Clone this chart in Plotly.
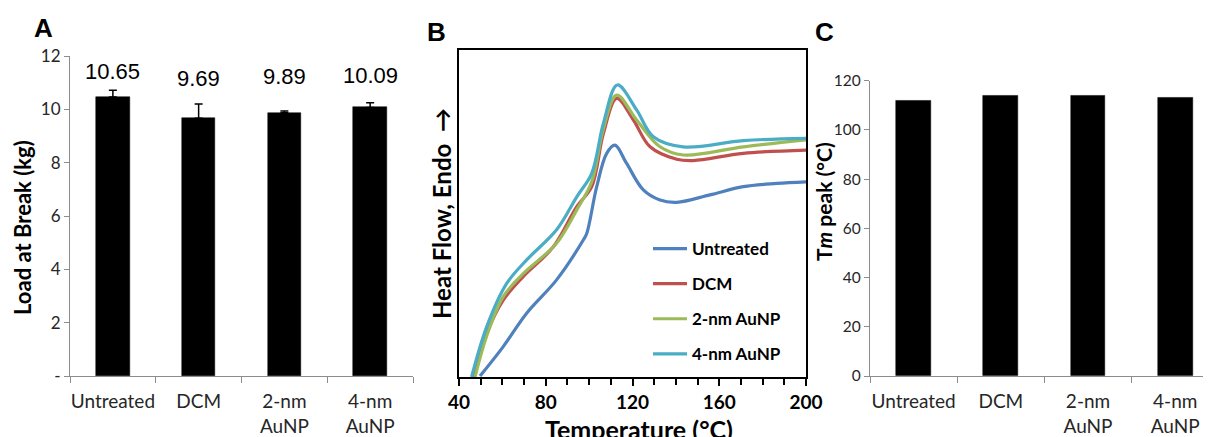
import plotly.graph_objects as go

# Panel A: load at break
groups = ["Untreated", "DCM", "2-nm AuNP", "4-nm AuNP"]
tick_labels = ["Untreated", "DCM", "2-nm<br>AuNP", "4-nm<br>AuNP"]
load_values = [10.46, 9.67, 9.87, 10.07]
load_errors = [0.26, 0.53, 0.07, 0.18]
load_labels = [10.65, 9.69, 9.89, 10.09]

# Panel C: melting peak
tm_values = [112, 114, 114, 113]
tm_labels = ["112", "114", "114", "113"]

# Panel B: DSC curves (arbitrary heat-flow units)
temp_untreated = [49.7, 60.4, 71.2, 85.0, 97.3, 98.9, 103.5, 108.1, 111.9, 117.3, 125.0, 132.7, 140.4, 155.7, 171.1, 186.5, 200]
hf_untreated = [0.3, 9.3, 19.5, 29.7, 41.9, 43.9, 58.2, 68.4, 70.9, 65.3, 57.2, 54.1, 53.4, 55.7, 58.2, 59.2, 59.7]

temp_dcm = [46.6, 52.8, 60.4, 69.6, 83.5, 94.3, 101.2, 106.6, 112.7, 120.4, 128.1, 140.4, 148.0, 171.1, 200]
hf_dcm = [0, 13.4, 23.5, 30.7, 39.8, 52.1, 58.2, 74.5, 85.2, 78.6, 70.4, 66.6, 66.2, 68.4, 69.4]

temp_2nm = [47.4, 52.8, 60.4, 69.6, 85.0, 94.3, 101.2, 106.6, 112.7, 121.9, 132.7, 143.4, 171.1, 200]
hf_2nm = [0, 12.6, 24.6, 31.6, 40.9, 51.1, 59.7, 76.0, 86.2, 78.6, 70.4, 67.9, 70.4, 72.5]

temp_4nm = [45.8, 52.8, 62.0, 71.2, 85.0, 94.3, 101.2, 106.6, 113.0, 121.9, 129.6, 143.4, 171.1, 200]
hf_4nm = [0, 15.4, 28.6, 35.8, 45.0, 55.1, 62.3, 77.6, 89.3, 81.7, 73.5, 70.4, 72.3, 73.0]

# the page body has an 8px margin, so the figure is drawn 8px smaller and offset
OFF = 8
W, H = 1211 - OFF, 437 - OFF
NUM_FONT = {"family": "Liberation Sans", "size": 22, "color": "black"}


def px(x):
    return (x - OFF) / W


def py(y):
    return (437 - y) / H


fig = go.Figure()

fig.add_trace(
    go.Bar(
        x=groups, y=load_values, width=0.39,
        marker={"color": "black", "line": {"color": "black", "width": 0.5}},
        error_y={"type": "data", "array": load_errors, "arrayminus": [0] * 4,
                 "symmetric": False, "color": "black", "thickness": 1.5, "width": 4},
        xaxis="x", yaxis="y", showlegend=False,
    )
)

curves = [
    ("Untreated", temp_untreated, hf_untreated, "#4F81BD"),
    ("DCM", temp_dcm, hf_dcm, "#C0504D"),
    ("2-nm AuNP", temp_2nm, hf_2nm, "#9BBB59"),
    ("4-nm AuNP", temp_4nm, hf_4nm, "#4BACC6"),
]
for i, (name, t, hf, color) in enumerate(curves):
    fig.add_trace(
        go.Scatter(
            x=t, y=hf, mode="lines", name=name,
            line={"color": color, "width": 3.2, "shape": "spline", "smoothing": 1.0},
            xaxis="x2", yaxis="y2", legendgroup=f"g{i}",
        )
    )

fig.add_trace(
    go.Bar(
        x=groups, y=tm_values, width=0.4,
        marker={"color": "black", "line": {"color": "black", "width": 0.5}},
        xaxis="x3", yaxis="y3", showlegend=False,
    )
)

for g, lab in zip(groups, load_labels):
    fig.add_annotation(x=g, y=8.75 + 0.25 * lab, xref="x", yref="y", text=f"{lab:.2f}",
                       showarrow=False, font=NUM_FONT)
for g, lab in zip(groups, tm_labels):
    fig.add_annotation(x=g, y=125, xref="x3", yref="y3", text=lab, showarrow=False,
                       font=NUM_FONT)


def paper_text(text, x, y, size, angle=0, family="Lato"):
    fig.add_annotation(x=px(x), y=py(y), xref="paper", yref="paper", text=text,
                       xanchor="center", yanchor="middle", textangle=angle, showarrow=False,
                       font={"family": family, "size": size, "color": "black", "weight": "bold"})


paper_text("A", 43, 28, 26, family="Liberation Sans")
paper_text("B", 436, 32, 26, family="Liberation Sans")
paper_text("C", 824, 32, 26, family="Liberation Sans")
paper_text("Load at Break (kg)", 23, 228, 22, angle=-90)
paper_text("Heat Flow, Endo  →", 442, 214, 24, angle=-90)
paper_text("Temperature (°C)", 639, 429, 25)
paper_text("T<i>m</i> peak (°C)", 823, 202, 21, angle=-90)

cat_axis = dict(
    type="category", tickson="boundaries", ticks="outside", ticklen=6, tickcolor="#8c8c8c",
    showline=True, linecolor="#8c8c8c", linewidth=1.2, showgrid=False, zeroline=False,
    tickvals=groups, ticktext=tick_labels, ticklabelstandoff=8, tickangle=0,
    automargin=False,
    tickfont={"family": "Lato", "size": 19, "color": "#262626"},
)
val_axis = dict(
    ticks="outside", ticklen=5, tickcolor="#8c8c8c", showline=True, linecolor="#8c8c8c",
    linewidth=1.2, showgrid=False, zeroline=False, automargin=False,
)

fig.update_layout(
    width=W, height=H,
    margin={"l": 0, "r": 0, "t": 0, "b": 0},
    plot_bgcolor="white", paper_bgcolor="white",
    bargap=0,
    xaxis={**cat_axis, "domain": [px(70), px(413)], "anchor": "y", "range": [-0.5, 3.5]},
    yaxis={**val_axis, "domain": [py(376), py(56)], "anchor": "x", "range": [0, 12],
           "tickvals": [0, 2, 4, 6, 8, 10, 12], "ticktext": ["-", "2", "4", "6", "8", "10", "12"],
           "tickfont": {"family": "Lato", "size": 17, "color": "#262626"}},
    xaxis2={"domain": [px(459), px(806)], "anchor": "y2", "range": [40, 200],
            "tickvals": [40, 80, 120, 160, 200], "ticks": "outside", "ticklen": 7,
            "tickwidth": 1.5, "tickcolor": "black", "automargin": False, "tickangle": 0,
            "minor": {"dtick": 10, "ticks": "outside", "ticklen": 6, "tickwidth": 1.5,
                      "tickcolor": "black", "showgrid": False},
            "showline": True, "linecolor": "black", "linewidth": 2, "mirror": True,
            "showgrid": False, "zeroline": False,
            "tickfont": {"family": "Lato", "size": 19, "color": "black", "weight": "bold"}},
    yaxis2={"domain": [py(377), py(50)], "anchor": "x2", "range": [0, 100],
            "showticklabels": False, "ticks": "", "showline": True, "linecolor": "black",
            "linewidth": 2, "mirror": True, "showgrid": False, "zeroline": False,
            "automargin": False},
    xaxis3={**cat_axis, "domain": [px(870), 1.0], "anchor": "y3", "range": [-0.5, 3.41]},
    yaxis3={**val_axis, "domain": [py(376), py(80.7)], "anchor": "x3", "range": [0, 120],
            "tickvals": [0, 20, 40, 60, 80, 100, 120],
            "tickfont": {"family": "Lato", "size": 15.5, "color": "#262626"}},
    legend={"x": px(648), "y": py(231), "xanchor": "left", "yanchor": "top",
            "bgcolor": "rgba(0,0,0,0)", "itemwidth": 34, "tracegroupgap": 10,
            "traceorder": "grouped",
            "font": {"family": "Lato", "size": 17, "color": "black", "weight": "bold"}},
)

fig.write_html("out.html")
